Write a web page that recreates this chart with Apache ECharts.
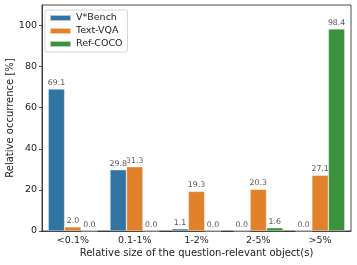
<!DOCTYPE html>
<html><head><meta charset="utf-8">
<script src="https://cdn.jsdelivr.net/npm/echarts@6/dist/echarts.min.js"></script>
<style>html,body{margin:0;padding:0;background:#fff}#c{width:357px;height:265px}</style>
</head><body><div id="c"></div>
<script>
const categories = ['<0.1%', '0.1-1%', '1-2%', '2-5%', '>5%'];
const vstarBench = [69.1, 29.8, 1.1, 0.0, 0.0];
const textVQA = [2.0, 31.3, 19.3, 20.3, 27.1];
const refCOCO = [0.0, 0.0, 0.0, 1.6, 98.4];
const yTicks = [0, 20, 40, 60, 80, 100];

const font = 'DejaVu Sans';
function mk(name, data, color) {
  return {
    name, type: 'bar', data,
    barGap: '0%', barCategoryGap: '20%',
    itemStyle: { color, borderColor: 'rgba(255,255,255,0.6)', borderWidth: 0.6 },
    label: { show: true, position: 'top', distance: 2, formatter: p => p.value.toFixed(1),
      fontFamily: font, fontSize: 7.8, color: '#555' }
  };
}
const chart = echarts.init(document.getElementById('c'), null, { renderer: 'canvas' });
chart.setOption({
  animation: false,
  grid: { left: 42, right: 6, top: 5, bottom: 34, show: true, borderColor: '#222', borderWidth: 0.8,
    containLabel: false, outerBoundsMode: 'none' },
  legend: {
    orient: 'vertical', left: 45, top: 10, itemWidth: 21, itemHeight: 6, itemGap: 3,
    padding: [3, 5, 3, 4], borderColor: '#ccc', borderWidth: 0.8, borderRadius: 2,
    backgroundColor: '#fff', icon: 'rect',
    textStyle: { fontFamily: font, fontSize: 9.5, color: '#222' },
    data: ['V*Bench', 'Text-VQA', 'Ref-COCO']
  },
  xAxis: {
    type: 'category', data: categories,
    name: 'Relative size of the question-relevant object(s)', nameLocation: 'middle', nameGap: 17,
    nameMoveOverlap: false,
    nameTextStyle: { fontFamily: font, fontSize: 10, color: '#222' },
    axisLine: { lineStyle: { color: '#222', width: 0.8 } },
    axisTick: { alignWithLabel: true, length: 3, lineStyle: { color: '#222', width: 0.8 } },
    axisLabel: { fontFamily: font, fontSize: 9.5, color: '#222', margin: 5 }
  },
  yAxis: {
    type: 'value', min: 0, max: 110, interval: 20,
    name: 'Relative occurrence [%]', nameLocation: 'middle', nameGap: 27,
    nameMoveOverlap: false,
    nameTextStyle: { fontFamily: font, fontSize: 10, color: '#222' },
    splitLine: { show: false },
    axisLine: { show: true, lineStyle: { color: '#222', width: 0.8 } },
    axisTick: { show: true, length: 3, customValues: yTicks, lineStyle: { color: '#222', width: 0.8 } },
    axisLabel: { fontFamily: font, fontSize: 9.5, color: '#222', margin: 5, customValues: yTicks }
  },
  series: [
    mk('V*Bench', vstarBench, '#3274a1'),
    mk('Text-VQA', textVQA, '#e1812c'),
    mk('Ref-COCO', refCOCO, '#3a923a')
  ]
});
</script></body></html>
